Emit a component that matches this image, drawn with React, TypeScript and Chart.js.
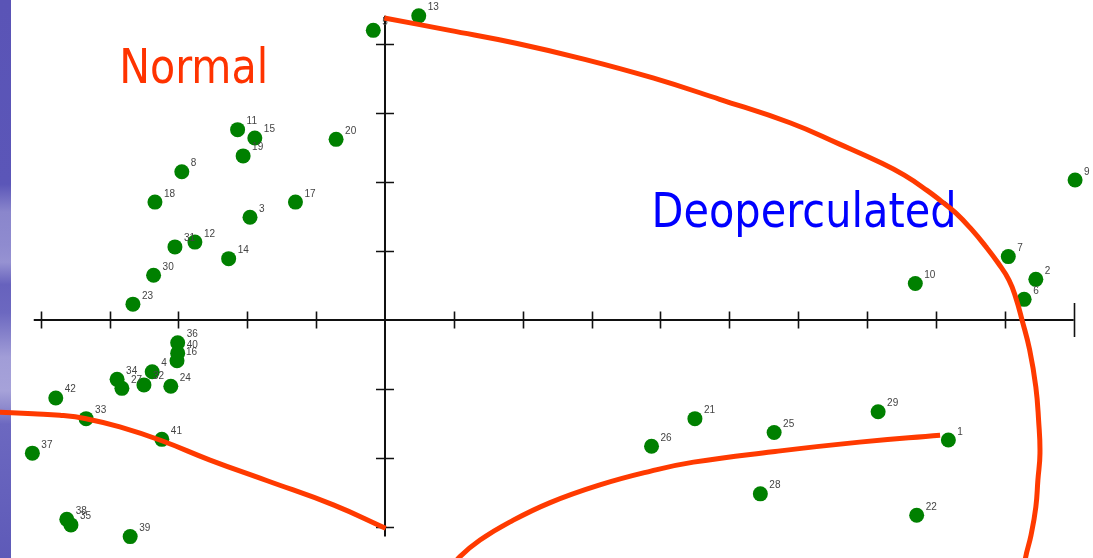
import { useEffect, useRef } from 'react';
import { Chart, registerables } from 'chart.js';

Chart.register(...registerables);

// Sample identifiers and their scores on the two ordination axes
const sampleIds = [
  '1', '2', '3', '4', '5', '6', '7', '8', '9', '10',
  '11', '12', '13', '14', '15', '16', '17', '18', '19', '20',
  '21', '22', '23', '24', '25', '26', '27', '28', '29', '30',
  '31', '32', '33', '34', '35', '36', '37', '38', '39', '40',
  '41', '42',
];
const axis1Scores = [
  8.18, 9.45, -1.96, -3.38, -0.17, 9.28, 9.05, -2.95, 10.02, 7.7,
  -2.14, -2.76, 0.49, -2.27, -1.89, -3.02, -1.3, -3.34, -2.06, -0.71,
  4.5, 7.72, -3.66, -3.11, 5.65, 3.87, -3.82, 5.45, 7.16, -3.36,
  -3.05, -3.5, -4.34, -3.89, -4.56, -3.01, -5.12, -4.62, -3.7, -3.01,
  -3.24, -4.78,
];
const axis2Scores = [
  -1.74, 0.59, 1.49, -0.75, 4.2, 0.3, 0.92, 2.15, 2.03, 0.53,
  2.76, 1.13, 4.41, 0.89, 2.64, -0.59, 1.71, 1.71, 2.38, 2.62,
  -1.43, -2.83, 0.23, -0.96, -1.63, -1.83, -0.99, -2.52, -1.33, 0.65,
  1.06, -0.94, -1.43, -0.86, -2.97, -0.33, -1.93, -2.89, -3.14, -0.48,
  -1.73, -1.13,
];

// Hand-drawn group boundaries, in axis units
const deopBoundaryX = [
  -0.01, 0.94, 1.92, 2.9, 3.89, 4.86, 5.88, 6.6, 7.2, 7.54, 7.87, 8.08, 8.29, 8.52,
  8.72, 8.9, 9.06, 9.16, 9.25, 9.36, 9.45, 9.49, 9.51, 9.48, 9.45, 9.38, 9.3, 9.26,
];
const deopBoundaryY = [
  4.38, 4.2, 4.01, 3.78, 3.51, 3.2, 2.86, 2.55, 2.28, 2.1, 1.88, 1.72, 1.55, 1.31,
  1.07, 0.83, 0.58, 0.32, 0.0, -0.43, -0.97, -1.45, -1.93, -2.32, -2.71, -3.12, -3.45, -3.77,
];
const normalBoundaryX = [-5.73, -5.11, -4.72, -4.34, -3.85, -3.24, -2.54, -1.71, -0.75, 0.01];
const normalBoundaryY = [-1.33, -1.36, -1.38, -1.43, -1.55, -1.75, -2.03, -2.33, -2.68, -3.02];
const innerBoundaryX = [8.06, 6.89, 5.63, 4.48, 3.86, 3.12, 2.39, 1.81, 1.38, 1.09, 0.87];
const innerBoundaryY = [-1.67, -1.77, -1.91, -2.06, -2.19, -2.39, -2.65, -2.93, -3.19, -3.43, -3.7];

// Axis tick values
const xTicks = [-5, -4, -3, -2, -1, 1, 2, 3, 4, 5, 6, 7, 8, 9, 10];
const yTicks = [-3, -2, -1, 1, 2, 3, 4];

// Group captions
const groupCaptions = [
  { text: 'Normal', x: -3.86, y: 3.43, color: '#ff3300', width: 149 },
  { text: 'Deoperculated', x: 3.87, y: 1.35, color: '#0000ff', width: 305 },
];

const toPoints = (xs: number[], ys: number[]) => xs.map((x, i) => ({ x, y: ys[i] }));

const RED = '#ff3a00';

const sideStripPlugin = {
  id: 'sideStrip',
  beforeDraw(chart: any) {
    const { ctx, height } = chart;
    ctx.save();
    ctx.fillStyle = '#ffffff';
    ctx.fillRect(0, 0, chart.width, height);
    const g = ctx.createLinearGradient(0, 0, 0, height);
    g.addColorStop(0, '#5a54b6');
    g.addColorStop(0.33, '#5b56b8');
    g.addColorStop(0.38, '#8a86cc');
    g.addColorStop(0.44, '#8f8bcf');
    g.addColorStop(0.47, '#9692d2');
    g.addColorStop(0.51, '#6762bd');
    g.addColorStop(0.56, '#6c68c0');
    g.addColorStop(0.6, '#8682cb');
    g.addColorStop(0.64, '#a19dd7');
    g.addColorStop(0.7, '#a6a2d9');
    g.addColorStop(0.73, '#8e8acd');
    g.addColorStop(0.76, '#6c68c0');
    g.addColorStop(1, '#5e5ab8');
    ctx.fillStyle = g;
    ctx.fillRect(0, 0, 11, height);
    ctx.restore();
  },
};

const crossAxesPlugin = {
  id: 'crossAxes',
  beforeDatasetsDraw(chart: any) {
    const { ctx } = chart;
    const xs = chart.scales.x;
    const ys = chart.scales.y;
    const x0 = xs.getPixelForValue(0);
    const y0 = ys.getPixelForValue(0);
    ctx.save();
    ctx.strokeStyle = '#111111';
    ctx.lineWidth = 2;
    ctx.beginPath();
    ctx.moveTo(xs.getPixelForValue(-5.1), y0);
    ctx.lineTo(xs.getPixelForValue(10), y0);
    ctx.moveTo(x0, ys.getPixelForValue(4.41));
    ctx.lineTo(x0, ys.getPixelForValue(-3.14));
    ctx.stroke();
    ctx.lineWidth = 1.6;
    ctx.beginPath();
    xTicks.forEach((t) => {
      const px = Math.round(xs.getPixelForValue(t)) + 0.5;
      const half = t === 10 ? 17 : 8.5;
      ctx.moveTo(px, y0 - half);
      ctx.lineTo(px, y0 + half);
    });
    yTicks.forEach((t) => {
      const py = Math.round(ys.getPixelForValue(t)) + 0.5;
      ctx.moveTo(x0 - 9, py);
      ctx.lineTo(x0 + 9, py);
    });
    ctx.stroke();

    // Group captions sit under the boundaries
    ctx.font = '48.5px "DejaVu Sans"';
    ctx.textBaseline = 'alphabetic';
    ctx.textAlign = 'left';
    groupCaptions.forEach((c) => {
      ctx.fillStyle = c.color;
      ctx.fillText(c.text, xs.getPixelForValue(c.x), ys.getPixelForValue(c.y), c.width);
    });
    ctx.restore();
  },
};

const sampleLabelPlugin = {
  id: 'sampleLabels',
  afterDatasetDraw(chart: any, args: any) {
    if (args.index !== 0) return;
    const { ctx } = chart;
    const meta = chart.getDatasetMeta(0);
    ctx.save();
    ctx.font = '10px "Liberation Sans"';
    ctx.fillStyle = '#444444';
    ctx.textAlign = 'left';
    ctx.textBaseline = 'alphabetic';
    meta.data.forEach((el: any, i: number) => {
      ctx.fillText(sampleIds[i], el.x + 9, el.y - 5.5);
    });
    ctx.restore();
  },
};

const boundary = (xs: number[], ys: number[], width: number) => ({
  data: toPoints(xs, ys),
  showLine: true,
  borderColor: RED,
  backgroundColor: RED,
  borderWidth: width,
  borderCapStyle: 'butt',
  borderJoinStyle: 'round',
  tension: 0.45,
  capBezierPoints: false,
  pointRadius: 0,
  pointHoverRadius: 0,
  fill: false,
  clip: false,
  order: 1,
});

export default function App() {
  const canvasRef = useRef<HTMLCanvasElement | null>(null);

  useEffect(() => {
    const canvas = canvasRef.current;
    if (!canvas) return;
    const chart = new Chart(canvas, {
      type: 'scatter',
      data: {
        datasets: [
          {
            data: toPoints(axis1Scores, axis2Scores),
            backgroundColor: '#008000',
            borderColor: '#008000',
            borderWidth: 0,
            pointRadius: 7.5,
            pointHoverRadius: 7.5,
            clip: false,
            order: 2,
          } as any,
          boundary(deopBoundaryX, deopBoundaryY, 5),
          boundary(normalBoundaryX, normalBoundaryY, 5),
          boundary(innerBoundaryX, innerBoundaryY, 5),
        ],
      },
      options: {
        responsive: false,
        maintainAspectRatio: false,
        devicePixelRatio: 1,
        animation: false,
        events: [],
        layout: { padding: 0, autoPadding: false },
        plugins: {
          legend: { display: false },
          tooltip: { enabled: false },
        },
        scales: {
          x: { type: 'linear', min: -5.59, max: 10.28, display: false },
          y: { type: 'linear', min: -3.45, max: 4.64, display: false },
        },
      },
      plugins: [sideStripPlugin, crossAxesPlugin, sampleLabelPlugin],
    });
    return () => chart.destroy();
  }, []);

  return (
    <div style={{ position: 'fixed', left: 0, top: 0, width: 1093, height: 558, background: '#ffffff' }}>
      <canvas ref={canvasRef} width={1093} height={558} style={{ display: 'block' }} />
    </div>
  );
}
